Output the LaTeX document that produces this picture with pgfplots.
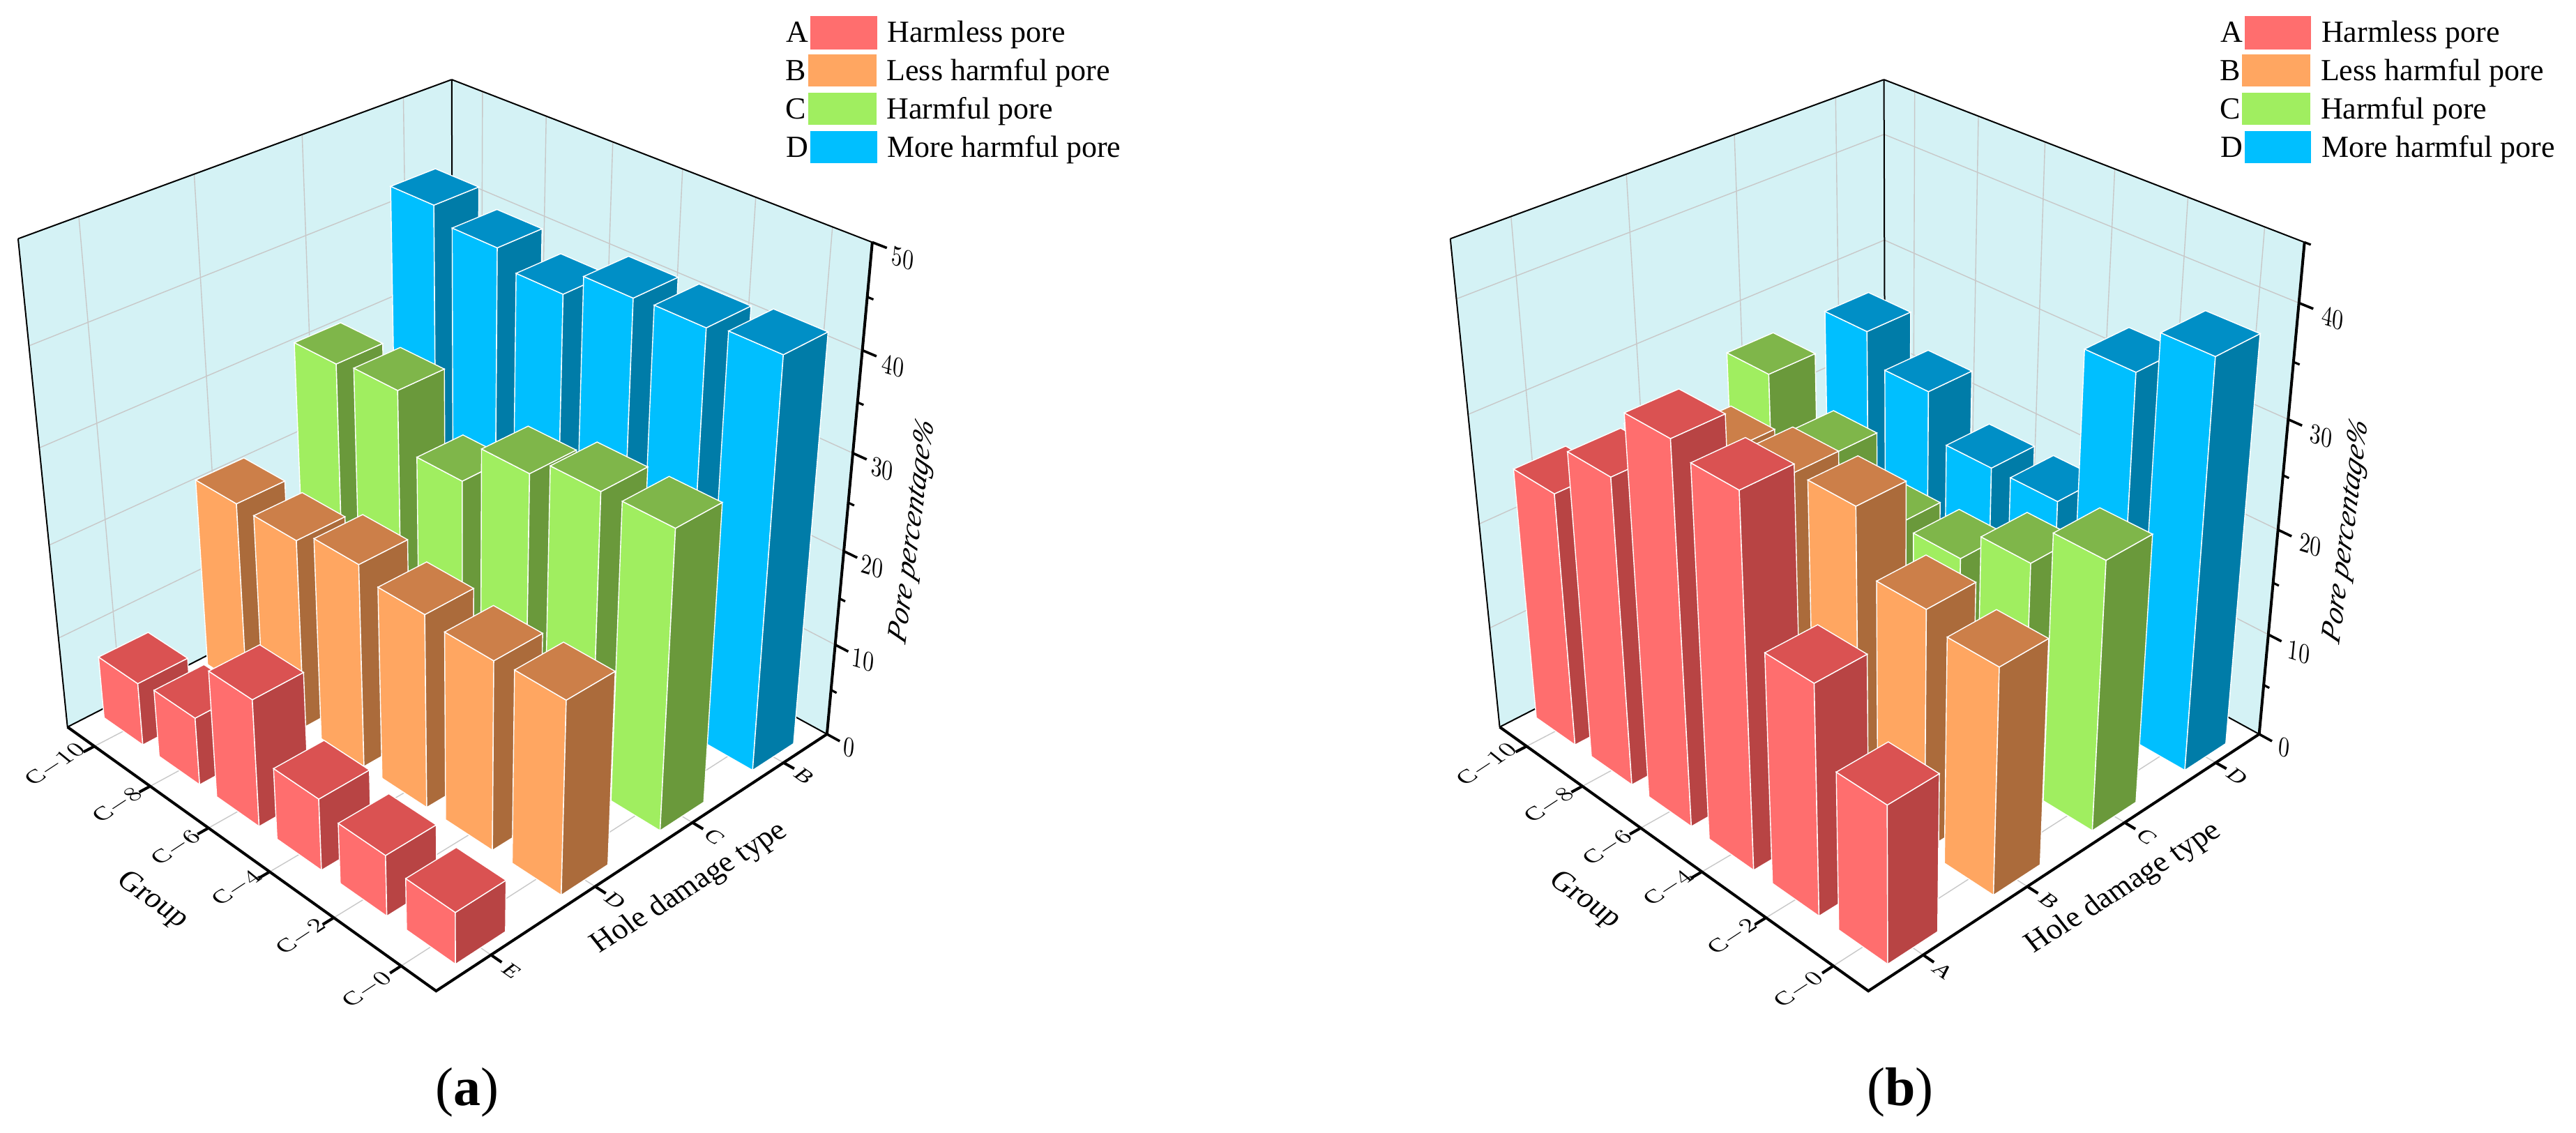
\documentclass[border=0pt]{standalone}
\usepackage{fontspec}
\setmainfont{Liberation Serif}
\usepackage{pgfplots}
\usepackage{pgfplotstable}
\pgfplotsset{compat=1.18}

% Values: group index, then one column per pore class
\pgfplotstableread{
g  A    B    C    D
0  6.9  20.7 30.4 42.3
1  7.4  20.5 30.9 40.8
2  13.7 21.8 25.0 39.1
3  7.7  20.6 29.3 41.7
4  6.5  20.0 31.1 41.9
5  5.5  20.3 31.2 42.5
}\dataA
\pgfplotstableread{
g  A    B    C    D
0  24.3 24.0 26.4 26.3
1  29.0 26.6 21.8 23.4
2  35.4 27.7 18.3 19.1
3  34.3 28.2 18.6 19.1
4  21.5 22.6 21.6 33.9
5  14.8 21.2 25.3 38.1
}\dataB

\definecolor{F0}{HTML}{FF6E6E}\definecolor{S0}{HTML}{B84444}\definecolor{T0}{HTML}{DA5252}
\definecolor{F1}{HTML}{FFA661}\definecolor{S1}{HTML}{AB6B3B}\definecolor{T1}{HTML}{CC7F49}
\definecolor{F2}{HTML}{A0EE60}\definecolor{S2}{HTML}{6A993B}\definecolor{T2}{HTML}{7FB64A}
\definecolor{F3}{HTML}{00BFFF}\definecolor{S3}{HTML}{007CA8}\definecolor{T3}{HTML}{008FC6}
\definecolor{wall}{HTML}{D4F2F5}
\definecolor{gridc}{HTML}{C8C8C8}

% camera of the 3D box, fitted to the corners of the box in the picture
\def\Kb{0}
\newcommand\proj[3]{%
  \pgfmathsetmacro\nn{1-0.1323*(#1)+0.1241*(#2)-0.1104*(#3)}%
  \pgfmathsetmacro\px{1.18*((82+377.9*(#1)+536.9*(#2)-62.43*(#3))/\nn+\Kb)}%
  \pgfmathsetmacro\py{1.0375*(1005+183.7*(#1)-182.07*(#2)-711.4*(#3))/\nn}%
}
\newcommand\clist{}
\newcommand\pstart{\xdef\clist{}}
\newcommand\padd[3]{\proj{#1}{#2}{#3}\xdef\clist{\clist(\px,\py) }}
\newcommand\Poly[1]{\edef\temp{\noexpand\addplot[forget plot,mark=none,#1] coordinates {\clist} --cycle;}\temp}
\newcommand\Line[1]{\edef\temp{\noexpand\addplot[forget plot,mark=none,#1] coordinates {\clist};}\temp}
\newcommand\Seg[7]{\pstart\padd{#1}{#2}{#3}\padd{#4}{#5}{#6}\Line{#7}}

\newcommand\DrawBar[3]{% i j z
  \pgfmathsetmacro\uL{(#1+0.5)/6-0.059}\pgfmathsetmacro\uR{(#1+0.5)/6+0.059}%
  \pgfmathsetmacro\wN{(#2+0.5)/4-0.058}\pgfmathsetmacro\wF{(#2+0.5)/4+0.058}%
  \pstart\padd{\uL}{\wN}{0}\padd{\uR}{\wN}{0}\padd{\uR}{\wN}{#3}\padd{\uL}{\wN}{#3}\Poly{fill=F#2,draw=white,line width=0.35pt}%
  \pstart\padd{\uR}{\wN}{0}\padd{\uR}{\wF}{0}\padd{\uR}{\wF}{#3}\padd{\uR}{\wN}{#3}\Poly{fill=S#2,draw=white,line width=0.35pt}%
  \pstart\padd{\uL}{\wN}{#3}\padd{\uR}{\wN}{#3}\padd{\uR}{\wF}{#3}\padd{\uL}{\wF}{#3}\Poly{fill=T#2,draw=white,line width=0.35pt}%
}

% skewed text: x y (ax ay bx by) size text
\newcommand\SkewLab[8]{%
  \edef\temp{\noexpand\node[at={(axis cs:#1,#2)},anchor=center,inner sep=0pt,transform shape,cm={#3,#4,#5,#6,(0,0)}]
   {\noexpand\fontsize{#7}{#7}\noexpand\selectfont\unexpanded{#8}};}\temp}
\newcommand\LabZ[3]{\pgfmathsetmacro\lx{1.18*(#1)}\pgfmathsetmacro\ly{1.0375*(#2)}\SkewLab{\lx}{\ly}{0.78}{-0.24}{0.1}{1}{10.2pt}{$#3$}}
\newcommand\LabG[3]{\pgfmathsetmacro\lx{1.18*(#1)}\pgfmathsetmacro\ly{1.0375*(#2)}\SkewLab{\lx}{\ly}{0.79}{0.52}{-0.64}{0.52}{9.6pt}{$\mathrm{C}{-}#3$}}
\newcommand\LabT[3]{\pgfmathsetmacro\lx{1.18*(#1)}\pgfmathsetmacro\ly{1.0375*(#2)}\SkewLab{\lx}{\ly}{0.74}{-0.52}{0.62}{0.48}{9.6pt}{$\mathrm{#3}$}}

\newcommand\LegRow[8]{% dx ytop ybot xbox0 xbox1 colour letter text
  \pgfmathsetmacro\xa{1.18*(#4+#1)}\pgfmathsetmacro\xb{1.18*(#5+#1)}\pgfmathsetmacro\ya{1.0375*#2}\pgfmathsetmacro\yb{1.0375*#3}%
  \pgfmathsetmacro\yt{\ya/2+\yb/2+14}\pgfmathsetmacro\xl{\xa-2}\pgfmathsetmacro\xt{\xb+14}%
  \edef\temp{\noexpand\fill[#6] (axis cs:\xa,\ya) rectangle (axis cs:\xb,\yb);
  \noexpand\node[anchor=base east,inner sep=0pt,font=\noexpand\fontsize{11pt}{11pt}\noexpand\selectfont] at (axis cs:\xl,\yt) {#7};
  \noexpand\node[anchor=base west,inner sep=0pt,font=\noexpand\fontsize{11pt}{11pt}\noexpand\selectfont] at (axis cs:\xt,\yt) {#8};}\temp}

% whole panel: table, top of the z axis, major z ticks, minor z ticks
\newcommand\Panel[4]{%
  % walls
  \pstart\padd{0}{0}{0}\padd{0}{0}{1}\padd{0}{1}{1}\padd{0}{1}{0}\Poly{fill=wall,draw=none}%
  \pstart\padd{0}{1}{0}\padd{0}{1}{1}\padd{1}{1}{1}\padd{1}{1}{0}\Poly{fill=wall,draw=none}%
  \pstart\padd{0}{0}{0}\padd{1}{0}{0}\padd{1}{1}{0}\padd{0}{1}{0}\Poly{fill=white,draw=none}%
  % grid
  \pgfplotsforeachungrouped \q in {0,...,5}{%
    \pgfmathsetmacro\uu{(\q+0.5)/6}%
    \Seg{\uu}{0}{0}{\uu}{1}{0}{gridc,line width=0.35pt}%
    \Seg{\uu}{1}{0}{\uu}{1}{1}{gridc,line width=0.35pt}%
    \Seg{\uu}{0}{0}{\uu}{-0.025}{0}{black,line width=1pt}%
  }%
  \pgfplotsforeachungrouped \q in {0,...,3}{%
    \pgfmathsetmacro\ww{(\q+0.5)/4}%
    \Seg{0}{\ww}{0}{1}{\ww}{0}{gridc,line width=0.35pt}%
    \Seg{0}{\ww}{0}{0}{\ww}{1}{gridc,line width=0.35pt}%
    \Seg{1}{\ww}{0}{1.025}{\ww}{0}{black,line width=1pt}%
  }%
  \pgfplotsforeachungrouped \q in {#3}{%
    \pgfmathsetmacro\zz{\q/#2}%
    \pgfmathparse{\q>0 && \q<#2 ? 1 : 0}\ifnum\pgfmathresult=1
      \Seg{0}{0}{\zz}{0}{1}{\zz}{gridc,line width=0.35pt}%
      \Seg{0}{1}{\zz}{1}{1}{\zz}{gridc,line width=0.35pt}%
    \fi
    \Seg{1}{1}{\zz}{1.03}{1}{\zz}{black,line width=0.9pt}%
  }%
  \pgfplotsforeachungrouped \q in {#4}{%
    \pgfmathsetmacro\zz{\q/#2}%
    \Seg{1}{1}{\zz}{1.013}{1}{\zz}{black,line width=0.8pt}%
  }%
  % frame
  \Seg{0}{0}{0}{0}{0}{1}{black,line width=0.5pt}%
  \Seg{0}{0}{1}{0}{1}{1}{black,line width=0.5pt}%
  \Seg{0}{1}{1}{1}{1}{1}{black,line width=0.5pt}%
  \Seg{0}{1}{1}{0}{1}{0}{black,line width=0.5pt}%
  \Seg{0}{0}{0}{0}{1}{0}{black,line width=0.5pt}%
  \Seg{0}{1}{0}{1}{1}{0}{black,line width=0.5pt}%
  \pstart\padd{0}{0}{0}\padd{1}{0}{0}\padd{1}{1}{0}\padd{1}{1}{1}\Line{black,line width=1pt,line join=miter}%
  % bars, far to near
  \pgfplotsforeachungrouped \j/\col in {3/D,2/C,1/B,0/A}{%
    \pgfplotsforeachungrouped \i in {0,...,5}{%
      \pgfplotstablegetelem{\i}{\col}\of{#1}%
      \pgfmathsetmacro\zt{\pgfplotsretval/#2}%
      \DrawBar{\i}{\j}{\zt}%
    }%
  }%
}

\begin{document}
\begin{tikzpicture}[x=1pt,y=1pt]
\useasboundingbox (0,0) rectangle (923.5pt,406.25pt);
\begin{axis}[at={(0pt,0pt)},anchor=south west,scale only axis,width=462.5pt,height=406.25pt,
  xmin=0,xmax=1850,ymin=0,ymax=1625,y dir=reverse,hide axis,clip=false]
\def\Kb{0}
\Panel{\dataA}{50}{0,10,20,30,40,50}{5,15,25,35,45}
\LabG{67}{1057}{10}\LabG{143}{1113}{8}\LabG{214}{1172}{6}\LabG{288}{1228}{4}\LabG{366}{1295}{2}\LabG{446}{1368}{0}
\LabT{978}{1073}{B}\LabT{868}{1157}{C}\LabT{748}{1245}{D}\LabT{622}{1342}{E}
\LabZ{1097}{357}{50}\LabZ{1085}{506}{40}\LabZ{1072}{648}{30}\LabZ{1060}{783}{20}\LabZ{1049}{912}{10}\LabZ{1032}{1033}{0}
\pgfmathsetmacro\lx{1.18*1110}\pgfmathsetmacro\ly{1.0375*735}\SkewLab{\lx}{\ly}{0.127}{0.992}{-0.9}{0.42}{10.8pt}{\textit{Pore percentage\%}}
\pgfmathsetmacro\lx{1.18*838}\pgfmathsetmacro\ly{1.0375*1228}\SkewLab{\lx}{\ly}{0.846}{0.534}{-0.62}{0.78}{11pt}{Hole damage type}
\pgfmathsetmacro\lx{1.18*185}\pgfmathsetmacro\ly{1.0375*1245}\SkewLab{\lx}{\ly}{0.813}{-0.582}{0.7}{0.7}{11pt}{Group}
\LegRow{0}{22}{68}{985}{1066}{F0}{A}{Harmless pore}
\LegRow{0}{75}{120}{982}{1065}{F1}{B}{Less harmful pore}
\LegRow{0}{128}{173}{982}{1065}{F2}{C}{Harmful pore}
\LegRow{0}{181}{226}{985}{1066}{F3}{D}{More harmful pore}
\node[font=\fontsize{19.5pt}{19.5pt}\selectfont] at (axis cs:670,1567) {(\textbf{a})};
\end{axis}
\begin{axis}[at={(462.5pt,0pt)},anchor=south west,scale only axis,width=461pt,height=406.25pt,
  xmin=0,xmax=1844,ymin=0,ymax=1625,y dir=reverse,hide axis,clip=false]
\def\Kb{172.7}
\Panel{\dataB}{45}{0,10,20,30,40}{5,15,25,35,45}
\LabG{239}{1057}{10}\LabG{315}{1113}{8}\LabG{386}{1172}{6}\LabG{460}{1228}{4}\LabG{538}{1295}{2}\LabG{618}{1368}{0}
\LabT{1151}{1073}{D}\LabT{1041}{1157}{C}\LabT{923}{1245}{B}\LabT{794}{1342}{A}
\LabZ{1267}{440}{40}\LabZ{1253}{603}{30}\LabZ{1240}{753}{20}\LabZ{1226}{902}{10}\LabZ{1208}{1033}{0}
\pgfmathsetmacro\lx{1.18*1285}\pgfmathsetmacro\ly{1.0375*735}\SkewLab{\lx}{\ly}{0.127}{0.992}{-0.9}{0.42}{10.8pt}{\textit{Pore percentage\%}}
\pgfmathsetmacro\lx{1.18*1013}\pgfmathsetmacro\ly{1.0375*1228}\SkewLab{\lx}{\ly}{0.846}{0.534}{-0.62}{0.78}{11pt}{Hole damage type}
\pgfmathsetmacro\lx{1.18*358}\pgfmathsetmacro\ly{1.0375*1245}\SkewLab{\lx}{\ly}{0.813}{-0.582}{0.7}{0.7}{11pt}{Group}
\LegRow{175}{22}{68}{985}{1066}{F0}{A}{Harmless pore}
\LegRow{175}{75}{120}{982}{1065}{F1}{B}{Less harmful pore}
\LegRow{175}{128}{173}{982}{1065}{F2}{C}{Harmful pore}
\LegRow{175}{181}{226}{985}{1066}{F3}{D}{More harmful pore}
\node[font=\fontsize{19.5pt}{19.5pt}\selectfont] at (axis cs:875,1567) {(\textbf{b})};
\end{axis}
\end{tikzpicture}
\end{document}
